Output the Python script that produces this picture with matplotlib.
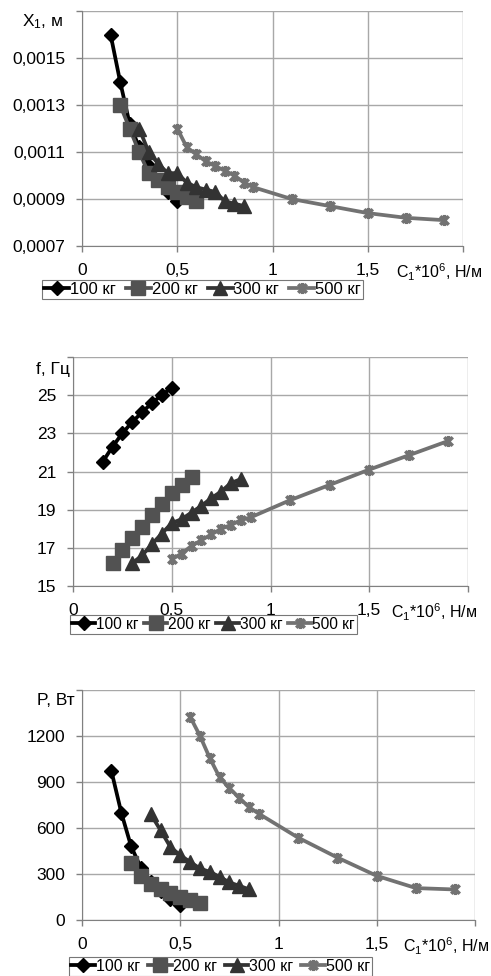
import matplotlib
matplotlib.use('Agg')
import matplotlib.pyplot as plt
from matplotlib.path import Path
from matplotlib.ticker import FuncFormatter

plt.rcParams['font.family'] = ['Liberation Sans', 'DejaVu Sans']
plt.rcParams['mathtext.fontset'] = 'custom'
plt.rcParams['mathtext.rm'] = 'Liberation Sans'
plt.rcParams['mathtext.it'] = 'Liberation Sans'

# --- data ---
names = ['100 кг', '200 кг', '300 кг', '500 кг']

c_100 = [0.15, 0.2, 0.25, 0.3, 0.35, 0.4, 0.45, 0.5]
x1_100 = [0.0016, 0.0014, 0.00122, 0.00112, 0.00104, 0.00098, 0.00093, 0.00089]
f_100 = [21.5, 22.3, 23.0, 23.6, 24.1, 24.6, 25.0, 25.4]
p_100 = [970, 700, 480, 340, 250, 190, 140, 100]

c_200 = [0.2, 0.25, 0.3, 0.35, 0.4, 0.45, 0.5, 0.55, 0.6]
x1_200 = [0.0013, 0.0012, 0.0011, 0.00101, 0.00098, 0.00095, 0.00093, 0.00091, 0.00089]
f_200 = [16.2, 16.9, 17.5, 18.1, 18.7, 19.3, 19.85, 20.3, 20.7]
cp_200 = [0.25, 0.3, 0.35, 0.4, 0.45, 0.5, 0.55, 0.6]
p_200 = [375, 285, 235, 205, 175, 150, 130, 110]

c_300 = [0.3, 0.35, 0.4, 0.45, 0.5, 0.55, 0.6, 0.65, 0.7, 0.75, 0.8, 0.85]
x1_300 = [0.0012, 0.0011, 0.00105, 0.00101, 0.00101, 0.00097, 0.00095, 0.00094,
          0.00093, 0.00089, 0.00088, 0.00087]
f_300 = [16.2, 16.6, 17.2, 17.75, 18.3, 18.5, 18.85, 19.2, 19.6, 19.95, 20.4, 20.6]
cp_300 = [0.35, 0.4, 0.45, 0.5, 0.55, 0.6, 0.65, 0.7, 0.75, 0.8, 0.85]
p_300 = [690, 585, 476, 422, 379, 336, 314, 282, 245, 223, 200]

c_500 = [0.5, 0.55, 0.6, 0.65, 0.7, 0.75, 0.8, 0.85, 0.9, 1.1, 1.3, 1.5, 1.7, 1.9]
x1_500 = [0.0012, 0.00112, 0.00109, 0.00106, 0.00104, 0.00102, 0.001, 0.00097,
          0.00095, 0.0009, 0.00087, 0.00084, 0.00082, 0.00081]
f_500 = [16.4, 16.7, 17.1, 17.4, 17.7, 18.0, 18.2, 18.45, 18.6, 19.5, 20.3, 21.1, 21.85, 22.6]
cp_500 = [0.55, 0.6, 0.65, 0.7, 0.75, 0.8, 0.85, 0.9, 1.1, 1.3, 1.5, 1.7, 1.9]
p_500 = [1326, 1202, 1057, 931, 860, 797, 736, 693, 537, 407, 288, 208, 199]

x_ticks = [0, 0.5, 1, 1.5, 2]
yt_x1 = [0.0007, 0.0009, 0.0011, 0.0013, 0.0015, 0.0017]
yt_f = [15, 17, 19, 21, 23, 25, 27]
yt_p = [0, 300, 600, 900, 1200, 1500]

# excel-like star marker (x with a vertical bar)
star = Path([(-1, -1), (1, 1), (-1, 1), (1, -1), (0, -1.3), (0, 1.3)],
            [Path.MOVETO, Path.LINETO, Path.MOVETO, Path.LINETO, Path.MOVETO, Path.LINETO])

styles = [
    dict(color='black', marker='D', ms=7.5),
    dict(color='#525252', marker='s', ms=9.5),
    dict(color='#333333', marker='^', ms=9.5),
    dict(color='#727272', marker=star, ms=8, mew=2.5),
]

W, H = 491, 976
fig = plt.figure(figsize=(W / 100, H / 100), dpi=100)


def fmt(v, pos):
    return ('%g' % v).replace('.', ',')


def panel(l, r, t, b, series, yticks, ylab, ylab_off, xlab_r, leg_box, leg_fs, colsp):
    ax = fig.add_axes([l / W, (H - b) / H, (r - l) / W, (b - t) / H])
    for (cx, cy), st, nm in zip(series, styles, names):
        ax.plot(cx, cy, lw=2.7, label=nm, **st)
    ax.set_xlim(0, 2)
    ax.set_ylim(yticks[0], yticks[-1])
    ax.set_xticks(x_ticks)
    ax.set_yticks(yticks)
    top = yticks[-1]
    ax.yaxis.set_major_formatter(FuncFormatter(lambda v, p: '' if abs(v - top) < 1e-12 else fmt(v, p)))
    ax.xaxis.set_major_formatter(FuncFormatter(lambda v, p: '' if v == 2 else fmt(v, p)))
    ax.grid(True, color='#a8a8a8', lw=1)
    ax.set_axisbelow(True)
    for s in ['top', 'right']:
        ax.spines[s].set_visible(False)
    for s in ['left', 'bottom']:
        ax.spines[s].set_color('#808080')
    ax.tick_params(direction='out', length=4, width=1, color='#808080',
                   labelsize=12.5, pad=8)
    ax.annotate(ylab, xy=(0, 1), xycoords='axes fraction', xytext=ylab_off,
                textcoords='offset pixels', ha='right', va='top', fontsize=12.5)
    ax.annotate(r'C$_\mathregular{1}$*10$^\mathregular{6}$, Н/м', xy=(1, 0), xycoords='axes fraction',
                xytext=((xlab_r - r), -16), textcoords='offset pixels', ha='right', va='top',
                fontsize=11.5)
    lg = fig.legend(*ax.get_legend_handles_labels(), loc='upper left',
                    bbox_to_anchor=(leg_box[0] / W, (H - leg_box[1]) / H),
                    ncol=4, fontsize=leg_fs,
                    frameon=True, fancybox=False, handlelength=1.5, handletextpad=0.05,
                    columnspacing=colsp, borderpad=0.12, borderaxespad=0, numpoints=1)
    lg.get_frame().set_edgecolor('#555555')
    lg.get_frame().set_linewidth(0.8)
    return ax


panel(82, 463, 11, 246,
      [(c_100, x1_100), (c_200, x1_200), (c_300, x1_300), (c_500, x1_500)],
      yt_x1, r'X$_\mathregular{1}$, м', (-19, -1), 482, (42, 280), 12, 0.6)

panel(73, 468, 357, 586,
      [(c_100, f_100), (c_200, f_200), (c_300, f_300), (c_500, f_500)],
      yt_f, 'f, Гц', (-3, -5), 477, (70, 615), 11.2, 0.35)

panel(82, 475, 690, 920,
      [(c_100, p_100), (cp_200, p_200), (cp_300, p_300), (cp_500, p_500)],
      yt_p, 'P, Вт', (-7, -3), 489, (69, 957), 11.5, 0.5)

fig.savefig('out.png', dpi=100, facecolor='white')
